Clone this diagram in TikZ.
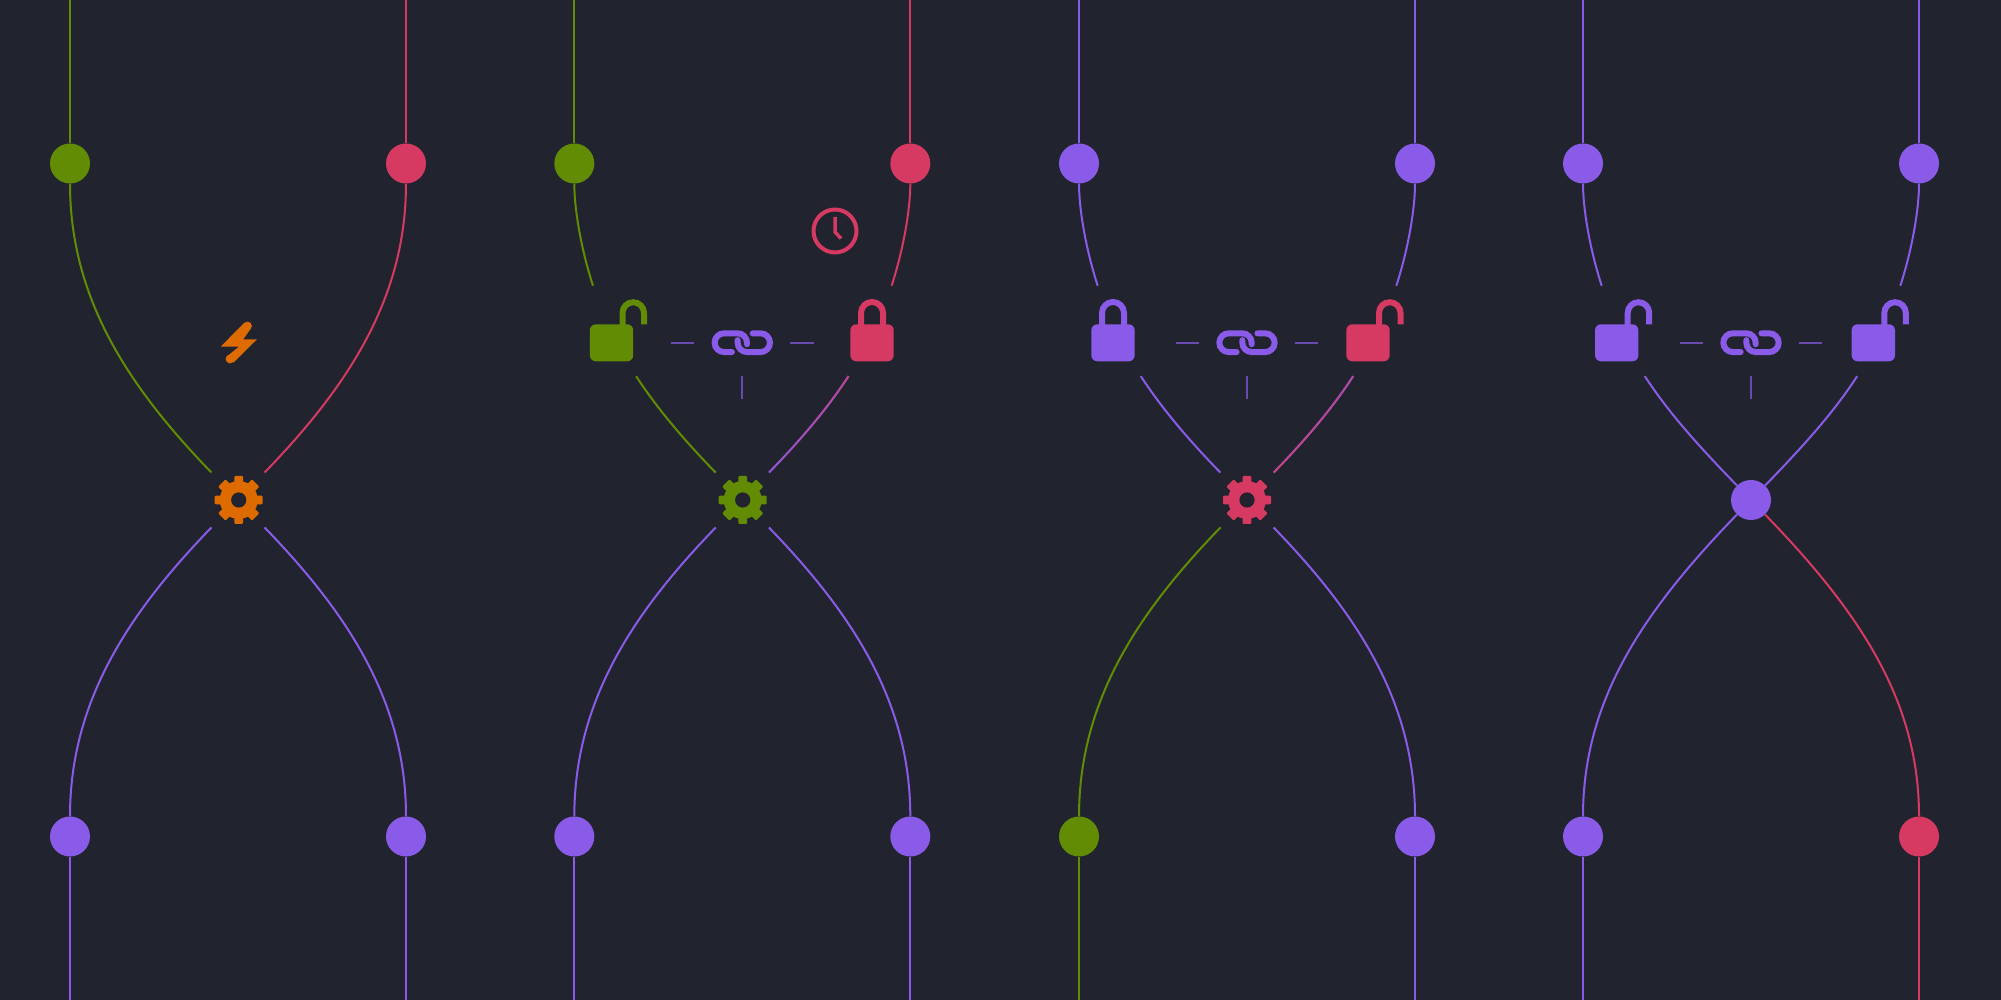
\documentclass[tikz,border=0pt]{standalone}
\usetikzlibrary{fadings}
\definecolor{cbg}{HTML}{21242E}
\definecolor{cgreen}{HTML}{618C03}
\definecolor{cred}{HTML}{D63962}
\definecolor{cpurple}{HTML}{8A5BE8}
\definecolor{corange}{HTML}{DD6B00}
\tikzfading[name=fadelockb, top color=transparent!35, bottom color=transparent!85]
\tikzfading[name=fadelockc, top color=transparent!55, bottom color=transparent!25]
\tikzset{
    wire/.style={draw=#1, line width=2pt},
    dimline/.style={draw=cpurple, draw opacity=0.7, line width=2pt},
    portdot/.style={circle, fill=#1, minimum size=40pt, inner sep=0pt},
    hubgap/.style={circle, minimum size=76pt, inner sep=0pt},
    hubdot/.style={circle, fill=cpurple, minimum size=40pt, inner sep=0pt},
    linkbox/.style={rectangle, minimum width=95.4pt, minimum height=66.6pt, inner sep=0pt},
    pics/lockshut/.style={code={
        \fill[#1, rounded corners=6pt] (-21.7,-18.5) rectangle (21.7,18.5);
        \draw[#1, line width=6pt] (-11,18) -- (-11,29.8) arc (180:0:11) -- (11,18);
    }},
    pics/lockopen/.style={code={
        \fill[#1, rounded corners=6pt] (-21.7,-18.5) rectangle (21.7,18.5);
        \draw[#1, line width=6pt] (11,18) -- (11,29.8) arc (180:0:10.75) -- (32.5,18.5);
    }},
    pics/gearicon/.style={code={
        \foreach \a in {0,90,180,270} {
            \fill[#1, rotate=\a, rounded corners=1pt] (-4.3,0) rectangle (4.3,24);
            \fill[#1, rotate=\a+45, rounded corners=1pt] (-5.2,0) rectangle (5.2,24);
        }
        \fill[#1] (0,0) circle (19);
        \fill[cbg] (0,0) circle (7.6);
    }},
    pics/linkicon/.style={code={
        \draw[cpurple, line width=6pt, line cap=round] (-10.4,-9.35) -- (-18.3,-9.35) arc (270:90:9.35)
            -- (-4.7,9.35) arc (90:0:9.35) -- (4.65,-1.5);
        \draw[cpurple, line width=6pt, line cap=round] (10.4,9.35) -- (18.3,9.35) arc (90:-90:9.35)
            -- (4.7,-9.35) arc (270:180:9.35) -- (-4.65,2.5);
    }},
}
\begin{document}
\begin{tikzpicture}[x=1pt, y=1pt]
    \useasboundingbox (0,0) rectangle (2001,1000);
    \fill[cbg] (0,0) rectangle (2001,1000);
    % columns: ports, hub, and the lower half of each
    \foreach \name/\cx/\ctl/\ctr/\cbl/\cbr/\hubst in {a/238/cgreen/cred/cpurple/cpurple/hubgap,
            b/742.3/cgreen/cred/cpurple/cpurple/hubgap,
            c/1247/cpurple/cpurple/cgreen/cpurple/hubgap,
            d/1751/cpurple/cpurple/cpurple/cred/hubdot} {
        \begin{scope}[shift={(\cx,500)}]
            \node[\hubst] (\name-hub) at (0,0) {};
            \node[portdot=\ctl] (\name-tl) at (-168,336.5) {};
            \node[portdot=\ctr] (\name-tr) at (168,336.5) {};
            \node[portdot=\cbl] (\name-bl) at (-168,-336.5) {};
            \node[portdot=\cbr] (\name-br) at (168,-336.5) {};
            \coordinate (\name-tl0) at (-168,500);
            \coordinate (\name-tr0) at (168,500);
            \coordinate (\name-bl0) at (-168,-500);
            \coordinate (\name-br0) at (168,-500);
            \draw[wire=\ctl] (\name-tl0) -- (\name-tl);
            \draw[wire=\ctr] (\name-tr0) -- (\name-tr);
            \draw[wire=\cbl] (\name-bl) -- (\name-bl0);
            \draw[wire=\cbr] (\name-br) -- (\name-br0);
            \draw[wire=\cbl] (\name-hub) .. controls (-108.4,-112) and (-168,-200.5) .. (\name-bl);
            \draw[wire=\cbr] (\name-hub) .. controls (108.4,-112) and (168,-200.5) .. (\name-br);
        \end{scope}
    }
    % first column has no locks
    \begin{scope}[shift={(238,500)}]
        \draw[wire=cgreen] (a-tl) .. controls (-168,200.5) and (-108.4,112) .. (a-hub);
        \draw[wire=cred] (a-tr) .. controls (168,200.5) and (108.4,112) .. (a-hub);
        \fill[corange] (-17.3,153.3) -- (6.3,177.3) -- (12.5,171) -- (5.3,160.7) -- (19,160.7)
            -- (-4.7,137.3) -- (-11.3,143.5) -- (1,153.3) -- cycle;
        \fill[corange] (9.5,174) circle (4.4);
        \fill[corange] (-8,141) circle (4.4);
    \end{scope}
    % locked columns, curve broken around the lock
    \foreach \name/\cx/\ctl/\ctr/\cla/\cra in {b/742.3/cgreen/cred/cgreen/cpurple,
            c/1247/cpurple/cpurple/cpurple/cpurple,
            d/1751/cpurple/cpurple/cpurple/cpurple} {
        \begin{scope}[shift={(\cx,500)}]
            \coordinate (\name-ul) at (-149.3,214.3);
            \coordinate (\name-ur) at (149.3,214.3);
            \coordinate (\name-ll) at (-106.2,123.8);
            \coordinate (\name-lr) at (106.2,123.8);
            \draw[wire=\ctl] (\name-tl) .. controls (-168,291.25) and (-161.3,251) .. (\name-ul);
            \draw[wire=\ctr] (\name-tr) .. controls (168,291.25) and (161.3,251) .. (\name-ur);
            \draw[wire=\cla] (\name-ll) .. controls (-83.5,89) and (-55.4,57) .. (\name-hub);
            \draw[wire=\cra] (\name-lr) .. controls (83.5,89) and (55.4,57) .. (\name-hub);
            \node[linkbox] (\name-link) at (0,157.3) {};
            \pic at (\name-link) {linkicon};
            \draw[dimline] (\name-link.west) -- +(-23.3,0);
            \draw[dimline] (\name-link.east) -- +(23.3,0);
            \draw[dimline] (\name-link.south) -- +(0,-23.3);
        \end{scope}
    }
    % red tint on the two right hand wires
    \begin{scope}[shift={(742.3,500)}]
        \draw[wire=cred, path fading=fadelockb] (b-lr) .. controls (83.5,89) and (55.4,57) .. (b-hub);
    \end{scope}
    \begin{scope}[shift={(1247,500)}]
        \draw[wire=cred, path fading=fadelockc] (c-lr) .. controls (83.5,89) and (55.4,57) .. (c-hub);
    \end{scope}
    % icons
    \pic at ([xshift=0.7pt]a-hub) {gearicon=corange};
    \pic at ([xshift=0.4pt]b-hub) {gearicon=cgreen};
    \pic at (c-hub) {gearicon=cred};
    \pic at (611.5,657.2) {lockopen=cgreen};
    \pic at (872,657.2) {lockshut=cred};
    \pic at (1113,657.2) {lockshut=cpurple};
    \pic at (1368,657.2) {lockopen=cred};
    \pic at (1616.7,657.2) {lockopen=cpurple};
    \pic at (1873.3,657.2) {lockopen=cpurple};
    % clock
    \draw[cred, line width=4pt] (835,769) circle (21.5);
    \draw[cred, line width=3.5pt] (835,783) -- (835,768) -- (841,761.5);
\end{tikzpicture}
\end{document}
